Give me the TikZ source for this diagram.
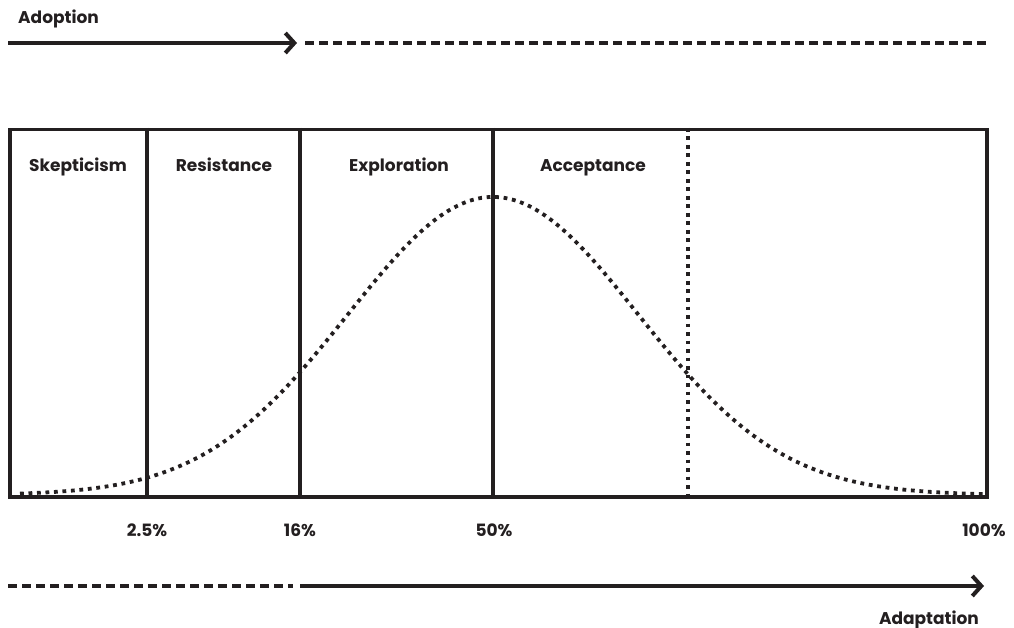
\documentclass[tikz,border=0pt]{standalone}
\usepackage{fontspec}
\setmainfont{Poppins}
\usetikzlibrary{arrows.meta}
\definecolor{ink}{HTML}{231F20}
\begin{document}
\begin{tikzpicture}[x=1pt,y=-1pt,
  lab/.style={font=\bfseries\fontsize{17}{19}\selectfont, text=ink, inner sep=0pt, anchor=base},
  frame/.style={draw=ink, line width=3.5pt},
  arr/.style={draw=ink, line width=4pt, -{Straight Barb[length=9pt,width=20pt]}},
  dsh/.style={draw=ink, line width=4pt, dash pattern=on 9pt off 5pt},
  dots/.style={draw=ink, line width=3.8pt, dash pattern=on 3.8pt off 4.7pt}]
\useasboundingbox (0,0) rectangle (1014,628);
% top arrow
\coordinate (a0) at (8,43);
\coordinate (a1) at (297,43);
\coordinate (a2) at (305,43);
\coordinate (a3) at (986,43);
\draw[arr] (a0) -- (a1);
\draw[dsh] (a2) -- (a3);
\node[lab, anchor=base west] (adoption) at (18,24) {Adoption};
% curve
\draw[dots] plot[domain=20:986, samples=160, smooth] (\x, {495-298*exp(-0.5*((\x-493)/145)^2)});
% box
\node[frame, minimum width=977pt, minimum height=367pt, anchor=north west, inner sep=0pt] (box) at (8,128) {};
\coordinate (v1t) at (147,128); \coordinate (v1b) at (147,495);
\coordinate (v2t) at (300,128); \coordinate (v2b) at (300,495);
\coordinate (v3t) at (493,128); \coordinate (v3b) at (493,495);
\coordinate (v4t) at (688,128); \coordinate (v4b) at (688,495);
\draw[frame] (v1t) -- (v1b);
\draw[frame] (v2t) -- (v2b);
\draw[frame] (v3t) -- (v3b);
\draw[dots, line width=3.5pt] (v4t) -- (v4b);
\node[lab] (skep) at (78,172) {Skepticism};
\node[lab] (resi) at (224,172) {Resistance};
\node[lab] (expl) at (399,172) {Exploration};
\node[lab] (acce) at (593,172) {Acceptance};
% percentages
\node[lab] (p1) at (147,536) {2.5\%};
\node[lab] (p2) at (300,536) {16\%};
\node[lab] (p3) at (494,536) {50\%};
\node[lab] (p4) at (984,536) {100\%};
% bottom arrow
\coordinate (b0) at (8,586);
\coordinate (b1) at (293,586);
\coordinate (b2) at (300,586);
\coordinate (b3) at (984,586);
\draw[dsh] (b0) -- (b1);
\draw[arr] (b2) -- (b3);
\node[lab, anchor=base east] (adaptation) at (979,624) {Adaptation};
\end{tikzpicture}
\end{document}
